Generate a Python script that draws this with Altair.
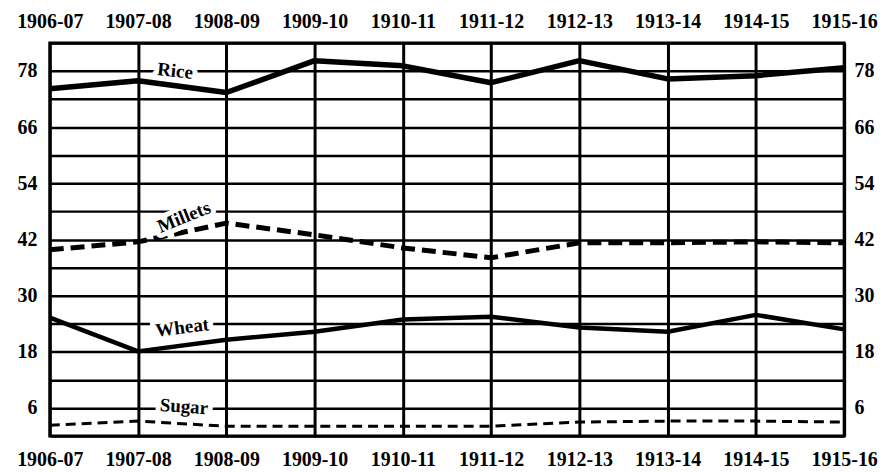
import altair as alt
import pandas as pd

years = ["1906-07", "1907-08", "1908-09", "1909-10", "1910-11",
         "1911-12", "1912-13", "1913-14", "1914-15", "1915-16"]
rice = [74.2, 75.9, 73.4, 80.2, 79.1, 75.5, 80.2, 76.3, 77.0, 78.7]
millets = [39.8, 41.5, 45.5, 43.0, 40.2, 38.1, 41.3, 41.3, 41.5, 41.3]
wheat = [25.3, 18.1, 20.6, 22.3, 24.9, 25.5, 23.2, 22.3, 25.9, 22.8]
sugar = [2.3, 3.2, 2.1, 2.1, 2.1, 2.1, 3.0, 3.2, 3.2, 3.0]

label_names = ["Rice", "Millets", "Wheat", "Sugar"]
label_x = [1.42, 1.52, 1.5, 1.52]
label_y = [78.0, 46.8, 23.2, 6.3]
label_angle = [6, 338, 353, 4]

series = {"Rice": rice, "Millets": millets, "Wheat": wheat, "Sugar": sugar}
rows = []
for name, vals in series.items():
    for i, v in enumerate(vals):
        rows.append({"idx": i, "year": years[i], "crop": name, "value": v})
df = pd.DataFrame(rows)
lab = pd.DataFrame({"name": label_names, "x": label_x, "y": label_y, "angle": label_angle})

year_arr = "[" + ",".join("'%s'" % y for y in years) + "]"
FONT = "Liberation Serif"

xscale = alt.Scale(domain=[0, len(years) - 1], nice=False, zero=False)
yscale = alt.Scale(domain=[0, 84], nice=False, zero=True)

def xaxis(orient, grid):
    return alt.Axis(orient=orient, values=list(range(len(years))),
                    labelExpr=year_arr + "[datum.value]",
                    grid=grid, gridColor="black", gridWidth=3, gridOpacity=1,
                    ticks=False, domain=False, title=None,
                    labelFont=FONT, labelFontWeight="bold", labelFontSize=20,
                    labelColor="black", labelFlush=False, labelOverlap=False,
                    labelBound=False, labelPadding=14 if orient == "bottom" else 11)

def yaxis(orient, grid):
    return alt.Axis(orient=orient, values=list(range(0, 85, 6)),
                    labelExpr="datum.value % 12 == 6 ? datum.label : ''",
                    grid=grid, gridColor="black", gridWidth=2.5, gridOpacity=1,
                    ticks=False, domain=False, title=None,
                    labelFont=FONT, labelFontWeight="bold", labelFontSize=20,
                    labelColor="black", labelOverlap=False, labelBound=False,
                    labelPadding=13 if orient == "left" else 10)

styles = {
    "Rice": dict(strokeWidth=5.5),
    "Millets": dict(strokeWidth=5, strokeDash=[14, 7]),
    "Wheat": dict(strokeWidth=4.5),
    "Sugar": dict(strokeWidth=3, strokeDash=[10, 6]),
}

layers = []
for k, name in enumerate(label_names):
    if k == 0:
        xa, ya = xaxis("bottom", True), yaxis("left", True)
    elif k == 1:
        xa, ya = xaxis("top", False), yaxis("right", False)
    else:
        xa, ya = None, None
    layers.append(
        alt.Chart(df).transform_filter(alt.datum.crop == name)
        .mark_line(color="black", strokeCap="butt", strokeJoin="round", **styles[name])
        .encode(x=alt.X("idx:Q", scale=xscale, axis=xa),
                y=alt.Y("value:Q", scale=yscale, axis=ya))
    )

halo = alt.Chart(lab).mark_text(font=FONT, fontWeight="bold", fontSize=19,
                                 fill="white", stroke="white", strokeWidth=10,
                                 strokeJoin="round", baseline="middle", align="center").encode(
    x=alt.X("x:Q", scale=xscale, axis=None),
    y=alt.Y("y:Q", scale=yscale, axis=None),
    text="name:N",
    angle=alt.Angle("angle:Q", scale=None))
txt = alt.Chart(lab).mark_text(font=FONT, fontWeight="bold", fontSize=19,
                                color="black", baseline="middle", align="center").encode(
    x=alt.X("x:Q", scale=xscale, axis=None),
    y=alt.Y("y:Q", scale=yscale, axis=None),
    text="name:N",
    angle=alt.Angle("angle:Q", scale=None))

chart = alt.layer(*layers, halo, txt).resolve_axis(
    x="independent", y="independent"
).properties(
    width=798, height=395,
    autosize=alt.AutoSizeParams(type="none"),
    padding={"left": 42, "top": 34, "right": 34, "bottom": 33},
    background="white",
).configure_view(stroke="black", strokeWidth=3)

chart.save("out.html", embed_options={"renderer": "svg", "actions": False})
